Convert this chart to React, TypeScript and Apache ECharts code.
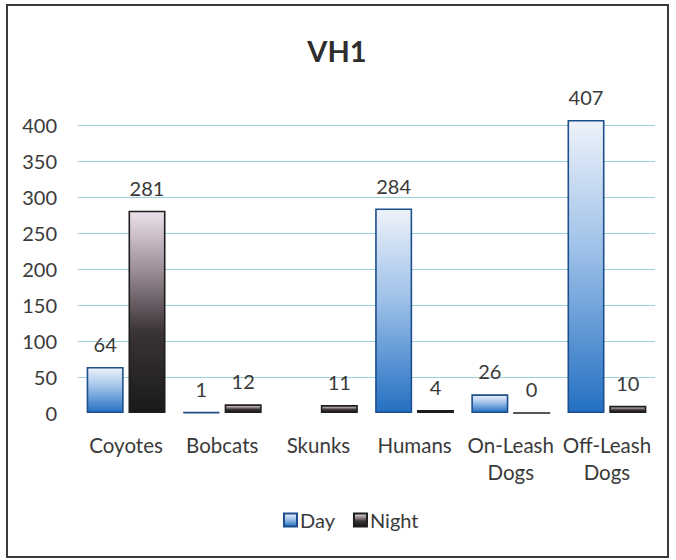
import React, { useEffect, useRef } from "react";
import * as echarts from "echarts";

const title = "VH1";
const categories = ["Coyotes", "Bobcats", "Skunks", "Humans", "On-Leash\nDogs", "Off-Leash\nDogs"];
const dayValues: (number | null)[] = [64, 1, null, 284, 26, 407];
const nightValues: (number | null)[] = [281, 12, 11, 4, 0, 10];
const seriesNames = ["Day", "Night"];
const yMin = 0;
const yMax = 400;
const yInterval = 50;

const FONT = "Lato, 'Open Sans', sans-serif";
const TEXT = "#3a3a3a";
const GRID = "#9ccfdc";

export default function App() {
  const ref = useRef<HTMLDivElement>(null);
  useEffect(() => {
    if (!ref.current) return;
    const chart = echarts.init(ref.current, null, { renderer: "svg" });
    const dayGrad = new echarts.graphic.LinearGradient(0, 0, 0, 1, [
      { offset: 0, color: "#eef2fa" },
      { offset: 0.45, color: "#9cc0e8" },
      { offset: 1, color: "#2470c2" },
    ]);
    const nightGrad = new echarts.graphic.LinearGradient(0, 0, 0, 1, [
      { offset: 0, color: "#ece1ea" },
      { offset: 0.3, color: "#9a8b95" },
      { offset: 0.6, color: "#3a3336" },
      { offset: 1, color: "#1a1a1a" },
    ]);
    const label = {
      show: true,
      position: "top",
      distance: 13,
      color: TEXT,
      fontSize: 20,
      fontFamily: FONT,
    };
    chart.setOption({
      animation: false,
      backgroundColor: "#ffffff",
      textStyle: { fontFamily: FONT },
      title: {
        text: title,
        left: 332,
        top: 31,
        textAlign: "center",
        textStyle: { fontSize: 29, fontWeight: "bold", color: "#2e2e2e", fontFamily: FONT },
      },
      legend: {
        bottom: 25,
        left: 278,
        icon: "rect",
        itemWidth: 13,
        itemHeight: 13,
        itemGap: 18,
        data: seriesNames,
        textStyle: { fontSize: 20, color: TEXT, fontFamily: FONT, padding: [0, 0, 0, -2] },
      },
      grid: { left: 78, right: 21, top: 125, bottom: 147, containLabel: false },
      xAxis: {
        type: "category",
        data: categories,
        axisLine: { show: false },
        axisTick: { show: false },
        axisLabel: {
          color: TEXT,
          fontSize: 20.5,
          fontFamily: FONT,
          margin: 18,
          lineHeight: 27,
          interval: 0,
        },
      },
      yAxis: {
        type: "value",
        min: yMin,
        max: yMax,
        interval: yInterval,
        axisLine: { show: false },
        axisTick: { show: false },
        axisLabel: { color: TEXT, fontSize: 20, fontFamily: FONT, margin: 21 },
        splitLine: {
          lineStyle: {
            color: ["rgba(0,0,0,0)", GRID, GRID, GRID, GRID, GRID, GRID, GRID, GRID],
            width: 1,
          },
        },
      },
      series: [
        {
          name: seriesNames[0],
          type: "bar",
          data: dayValues,
          clip: false,
          barCategoryGap: "18%",
          barGap: "13%",
          itemStyle: { color: dayGrad, borderColor: "#1d4f8c", borderWidth: 1.6 },
          label,
        },
        {
          name: seriesNames[1],
          type: "bar",
          data: nightValues,
          clip: false,
          barCategoryGap: "18%",
          barGap: "13%",
          itemStyle: { color: nightGrad, borderColor: "#1e1e1e", borderWidth: 1.6 },
          label,
        },
      ],
      graphic: [
        {
          type: "rect",
          shape: { x: 7, y: 5, width: 661, height: 552 },
          style: { fill: "none", stroke: "#3a3a3a", lineWidth: 2 },
          silent: true,
        },
      ],
    });
    return () => chart.dispose();
  }, []);
  return (
    <div
      ref={ref}
      style={{ position: "absolute", left: 0, top: 0, width: 676, height: 560 }}
    />
  );
}
